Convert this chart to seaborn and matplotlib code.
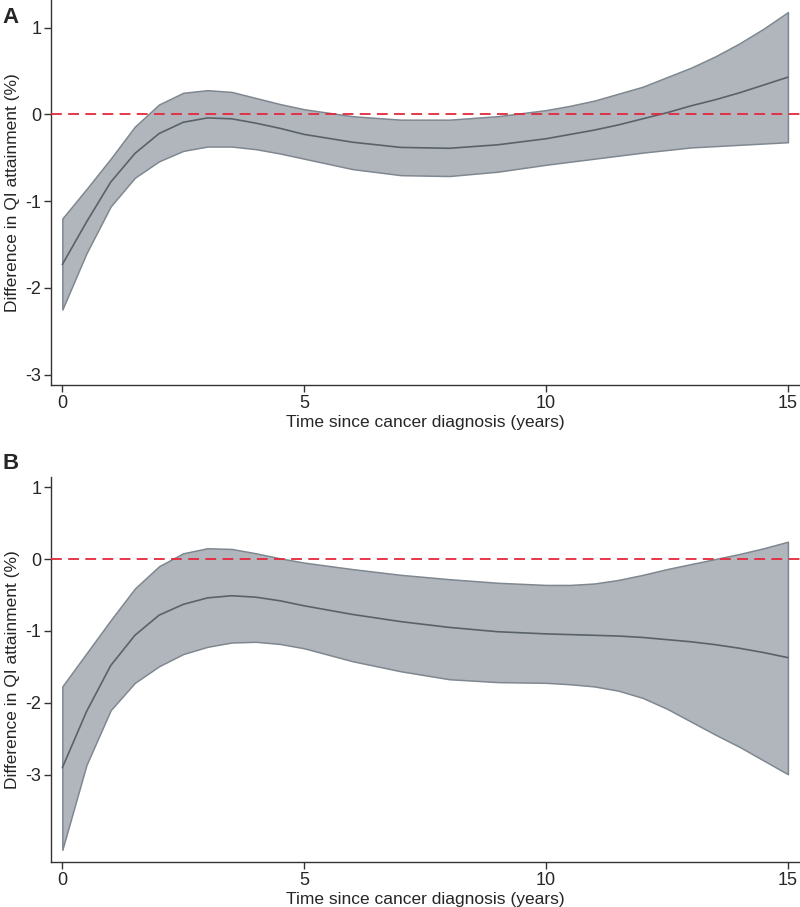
import matplotlib
matplotlib.use("Agg")
import matplotlib.pyplot as plt
import pandas as pd
import seaborn as sns

# years since diagnosis (same grid for both panels)
years = [0, 0.5, 1, 1.5, 2, 2.5, 3, 3.5, 4, 4.5, 5, 6, 7, 8, 9, 10,
         10.5, 11, 11.5, 12, 12.5, 13, 13.5, 14, 14.5, 15]

# panel A: estimate and 95% CI
a_mid = [-1.73, -1.24, -0.78, -0.45, -0.22, -0.09, -0.04, -0.05, -0.10, -0.16, -0.23,
         -0.32, -0.38, -0.39, -0.35, -0.28,
         -0.23, -0.18, -0.12, -0.05, 0.02, 0.10, 0.17, 0.25, 0.34, 0.43]
a_upper = [-1.20, -0.86, -0.51, -0.14, 0.115, 0.25, 0.28, 0.26, 0.19, 0.12, 0.06,
           -0.02, -0.06, -0.06, -0.02, 0.05,
           0.10, 0.16, 0.24, 0.32, 0.43, 0.54, 0.67, 0.82, 0.99, 1.18]
a_lower = [-2.25, -1.60, -1.06, -0.73, -0.54, -0.42, -0.37, -0.37, -0.40, -0.45, -0.51,
           -0.63, -0.70, -0.71, -0.66, -0.58,
           -0.545, -0.51, -0.475, -0.44, -0.41, -0.38, -0.365, -0.35, -0.335, -0.32]

# panel B: estimate and 95% CI
b_mid = [-2.90, -2.12, -1.48, -1.06, -0.78, -0.63, -0.54, -0.51, -0.53, -0.58, -0.65,
         -0.77, -0.87, -0.95, -1.01, -1.04,
         -1.05, -1.06, -1.07, -1.09, -1.12, -1.15, -1.19, -1.24, -1.30, -1.37]
b_upper = [-1.77, -1.31, -0.85, -0.41, -0.10, 0.08, 0.15, 0.14, 0.08, 0.01, -0.05,
           -0.14, -0.22, -0.28, -0.33, -0.36,
           -0.36, -0.34, -0.29, -0.22, -0.14, -0.07, 0.0, 0.07, 0.15, 0.24]
b_lower = [-4.04, -2.86, -2.10, -1.72, -1.49, -1.32, -1.22, -1.16, -1.15, -1.18, -1.24,
           -1.42, -1.56, -1.67, -1.71, -1.72,
           -1.74, -1.77, -1.83, -1.93, -2.08, -2.26, -2.44, -2.61, -2.80, -2.99]

x_ticks = [0, 5, 10, 15]
y_ticks = [-3, -2, -1, 0, 1]

sns.set_style("ticks")
plt.rcParams["font.family"] = ["Liberation Sans", "DejaVu Sans"]

fill_col = "#b1b6bc"
edge_col = "#7f8890"
line_col = "#59626b"
red = "#e3283c"

fig = plt.figure(figsize=(8, 9.07), dpi=100)

panels = [
    ("A", a_mid, a_upper, a_lower, [0.064, 0.5755, 0.936, 0.4245], (-3.12, 1.32), 0.992),
    ("B", b_mid, b_upper, b_lower, [0.064, 0.0496, 0.936, 0.4245], (-4.21, 1.14), 0.501),
]

for letter, mid, upper, lower, rect, ylim, letter_y in panels:
    df = pd.DataFrame({"years": years, "mid": mid, "upper": upper, "lower": lower})
    ax = fig.add_axes(rect)
    ax.fill_between(df["years"], df["lower"], df["upper"], color=fill_col,
                    edgecolor=edge_col, linewidth=1.1, zorder=1)
    sns.lineplot(data=df, x="years", y="mid", ax=ax, color=line_col,
                 linewidth=1.2, zorder=2)
    ax.axhline(0, color=red, linestyle=(0, (6, 3.5)), linewidth=1.3, zorder=3)

    ax.set_xlim(-0.23, 15.25)
    ax.set_ylim(*ylim)
    ax.set_xticks(x_ticks)
    ax.set_yticks(y_ticks)
    ax.set_xticklabels([str(v) for v in x_ticks])
    ax.set_yticklabels([str(v) for v in y_ticks])
    ax.tick_params(labelsize=13, length=5, width=1, color="#333333",
                   direction="out", pad=2)
    for side in ["top", "right"]:
        ax.spines[side].set_visible(False)
    for side in ["left", "bottom"]:
        ax.spines[side].set_color("#333333")
        ax.spines[side].set_linewidth(1)

    ax.set_xlabel("Time since cancer diagnosis (years)", fontsize=12.5, labelpad=2)
    ax.set_ylabel("Difference in QI attainment (%)", fontsize=12.5, labelpad=4)

    fig.text(0.003, letter_y, letter, fontsize=16, fontweight="bold",
             ha="left", va="top")

fig.savefig("out.png", dpi=100)
